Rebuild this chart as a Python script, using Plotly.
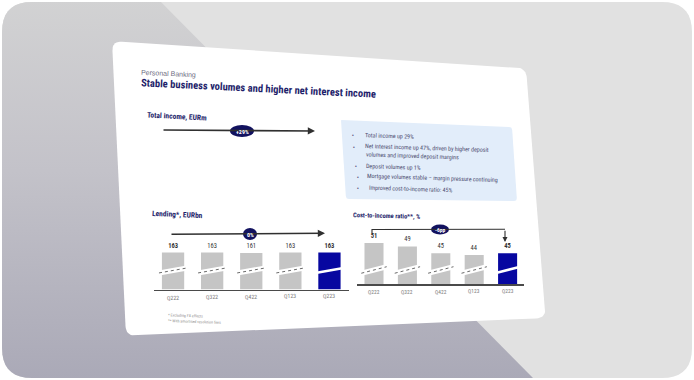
import numpy as np
import plotly.graph_objects as go

# ---------------- data ----------------
quarters = ["Q222", "Q322", "Q422", "Q123", "Q223"]
lending_eurbn = [163, 163, 161, 163, 163]
cost_to_income_pct = [51, 49, 45, 44, 45]
total_income_change = "+29%"
lending_change = "0%"
cir_change = "-6pp"
kicker = "Personal Banking"
title = "Stable business volumes and higher net interest income"
panel_titles = ["Total income, EURm", "Lending*, EURbn", "Cost-to-income ratio**, %"]
bullet_lines = [
    "Total income up 29%",
    "Net interest income up 47%, driven by higher deposit",
    "volumes and improved deposit margins",
    "Deposit volumes up 1%",
    "Mortgage volumes stable \u2013 margin pressure continuing",
    "Improved cost-to-income ratio: 45%",
]
bullet_first_line = [True, True, False, True, True, True]
footnotes = ["* Excluding FX effects", "** With amortised resolution fees"]

# ---------------- styling / layout constants ----------------
W, H = 694, 380
NARROW = "Liberation Sans Narrow, Arial Narrow, Roboto Condensed, DejaVu Sans Condensed, sans-serif"
SANS = "Liberation Sans, Arial, sans-serif"
NAVY_TXT = "#1f1f6b"
BAR_GREY = "#c5c5c5"
BAR_NAVY = "#0707a0"
PILL = "#12125f"
LINE = "#303030"


def rounded(pts, r, n=10):
    pts = np.asarray(pts, float)
    k = len(pts)
    rr = np.broadcast_to(np.asarray(r, float), (k,))
    xs, ys = [], []
    for i in range(k):
        p0, p1, p2 = pts[i - 1], pts[i], pts[(i + 1) % k]
        d1 = (p0 - p1) / np.linalg.norm(p0 - p1)
        d2 = (p2 - p1) / np.linalg.norm(p2 - p1)
        a, b = p1 + d1 * rr[i], p1 + d2 * rr[i]
        t = np.linspace(0, 1, n)[:, None]
        q = (1 - t) ** 2 * a + 2 * (1 - t) * t * p1 + t ** 2 * b
        xs += list(q[:, 0])
        ys += list(q[:, 1])
    return xs + [xs[0]], ys + [ys[0]]


def clip(xs, ys, a, b):
    P = list(zip(xs[:-1], ys[:-1]))

    def side(p):
        return (b[0] - a[0]) * (p[1] - a[1]) - (b[1] - a[1]) * (p[0] - a[0])

    out = []
    for i in range(len(P)):
        cur, nxt = P[i], P[(i + 1) % len(P)]
        sc, sn = side(cur), side(nxt)
        if sc >= 0:
            out.append(cur)
        if (sc >= 0) != (sn >= 0):
            t = sc / (sc - sn)
            out.append((cur[0] + t * (nxt[0] - cur[0]), cur[1] + t * (nxt[1] - cur[1])))
    out.append(out[0])
    return [p[0] for p in out], [p[1] for p in out]


fig = go.Figure()

# ---------- background (pixel space subplot x/y) ----------
ox, oy = rounded([(2, 2), (692, 2), (692, 378), (2, 378)], 30)
fig.add_trace(go.Scatter(x=ox, y=oy, fill="toself", fillcolor="#e1e1e1",
                         mode="lines", line=dict(width=0), hoverinfo="skip"))
lx, ly = clip(ox, oy, (159, 0), (535, 380))
fig.add_trace(go.Scatter(x=lx, y=ly, fill="toself", mode="lines", line=dict(width=0),
                         fillgradient=dict(type="vertical", start=0, stop=380,
                                           colorscale=[[0, "#d2d2d3"], [0.45, "#c3c2c9"], [1, "#aaa9b7"]]),
                         hoverinfo="skip"))
cx, cy = rounded([(112, 41), (526, 68), (546, 318), (126, 336)], 10)
fig.add_trace(go.Scatter(x=cx, y=cy, fill="toself", fillcolor="#ffffff",
                         mode="lines", line=dict(width=0), hoverinfo="skip"))
bx, by = rounded([(341, 120), (512, 127), (517, 201), (346, 199)], [0.5, 3, 3, 3])
fig.add_trace(go.Scatter(x=bx, y=by, fill="toself", fillcolor="#e2edfa",
                         mode="lines", line=dict(width=0), hoverinfo="skip"))

# ---------- bar charts ----------
def bold_ends(vals):
    return [f"<b>{v}</b>" if i in (0, len(vals) - 1) else f"{v}" for i, v in enumerate(vals)]

idx = list(range(len(quarters)))
colors = [BAR_GREY] * (len(quarters) - 1) + [BAR_NAVY]

fig.add_trace(go.Bar(x=idx, y=lending_eurbn, xaxis="x2", yaxis="y2", marker_color=colors,
                     marker_line_width=0, text=bold_ends(lending_eurbn), textposition="outside",
                     textangle=0, constraintext="none",
                     textfont=dict(family=NARROW, size=6.5, color="#333333"), hoverinfo="skip"))
fig.add_trace(go.Bar(x=idx, y=cost_to_income_pct, xaxis="x3", yaxis="y3", marker_color=colors,
                     marker_line_width=0, text=bold_ends(cost_to_income_pct), textposition="outside",
                     textangle=0, constraintext="none",
                     textfont=dict(family=NARROW, size=6.5, color="#333333"), hoverinfo="skip"))


def break_traces(xa, ya, ymid, dy, hw):
    gx, gy, nx, ny = [], [], [], []
    for i in idx:
        seg_x = [i - hw, i + hw, None]
        seg_y = [ymid - dy, ymid + dy, None]
        if i == idx[-1]:
            nx += seg_x
            ny += seg_y
        else:
            gx += seg_x
            gy += seg_y
    fig.add_trace(go.Scatter(x=gx, y=gy, xaxis=xa, yaxis=ya, mode="lines",
                             line=dict(color="white", width=5), hoverinfo="skip", cliponaxis=False))
    fig.add_trace(go.Scatter(x=gx, y=gy, xaxis=xa, yaxis=ya, mode="lines",
                             line=dict(color="#6a6a6a", width=1, dash="dot"), hoverinfo="skip", cliponaxis=False))
    fig.add_trace(go.Scatter(x=nx, y=ny, xaxis=xa, yaxis=ya, mode="lines",
                             line=dict(color="white", width=2.5), hoverinfo="skip", cliponaxis=False))


break_traces("x2", "y2", 84, 11, 0.36)
break_traces("x3", "y3", 35.2, 1.9, 0.38)

# ---------- shapes: pills and bracket ----------
shapes = []
for (pxc, pyc, pw, ph) in [(242, 131, 24, 12), (250, 234, 14, 12), (440, 229.5, 18, 10)]:
    shapes.append(dict(type="circle", xref="x", yref="y", x0=pxc - pw / 2, x1=pxc + pw / 2,
                       y0=pyc - ph / 2, y1=pyc + ph / 2, fillcolor=PILL, line=dict(width=0),
                       layer="above"))
shapes.append(dict(type="path", xref="x", yref="y", path="M 372,233 L 372,229.5 L 505,229.3",
                   line=dict(color=LINE, width=1.1), layer="above"))

annotations = []


def text(x, y, s, size, color, family=NARROW, angle=0, anchor="left", bold=False):
    annotations.append(dict(xref="x", yref="y", x=x, y=y, text=f"<b>{s}</b>" if bold else s,
                            showarrow=False, xanchor=anchor, yanchor="middle", textangle=angle,
                            font=dict(family=family, size=size, color=color)))


def arrow(x0, y0, x1, y1, width=1.4):
    annotations.append(dict(xref="x", yref="y", axref="x", ayref="y", x=x1, y=y1, ax=x0, ay=y0,
                            text="", showarrow=True, arrowhead=2, arrowsize=0.9, arrowwidth=width,
                            arrowcolor=LINE, standoff=0, startstandoff=0))


text(139, 73.7, kicker, 7, "#6e6e82", family=SANS, angle=2.7)
text(139, 88.2, title, 10.5, NAVY_TXT, angle=2.8, bold=True)
text(145, 116.7, panel_titles[0], 7.5, NAVY_TXT, angle=3, bold=True)
text(149.6, 214.7, panel_titles[1], 7.5, NAVY_TXT, angle=2.5, bold=True)
text(351, 215.8, panel_titles[2], 6.5, NAVY_TXT, angle=1.4, bold=True)

arrow(162, 130, 315, 131, 1.6)
arrow(170, 234.3, 325, 233.3, 1.6)
arrow(505, 229.3, 505, 242, 1.1)
text(242, 131, total_income_change, 6, "white", anchor="center", bold=True)
text(250, 234, lending_change, 6, "white", anchor="center", bold=True)
text(440, 229.5, cir_change, 5.5, "white", anchor="center", bold=True)

bx_text = [362.8, 362.8, 363.7, 364.2, 365, 366.4]
by_text = [135.2, 147.8, 155.5, 166.2, 177.7, 188.5]
dot_x = [352.7, 354, None, 356.2, 357.5, 358.4]
for i, line in enumerate(bullet_lines):
    text(bx_text[i], by_text[i], line, 6, "#4a4a6e", angle=1.8)
    if bullet_first_line[i]:
        text(dot_x[i], by_text[i] - 0.4, "\u2022", 5, "#5a5a80", family=SANS, anchor="center")

# category labels, following the slide's perspective just below the baseline
for i, q in enumerate(quarters):
    y_l = 297.8 + (295.6 - 297.8) * i / 4
    y_c = 292.4 + (290.6 - 292.4) * i / 4
    annotations.append(dict(xref="x2", yref="y", x=i, y=y_l, text=q, showarrow=False,
                            xanchor="center", yanchor="middle", textangle=-1.5,
                            font=dict(family=NARROW, size=5.8, color="#7c7c7c")))
    annotations.append(dict(xref="x3", yref="y", x=i, y=y_c, text=q, showarrow=False,
                            xanchor="center", yanchor="middle", textangle=-1.5,
                            font=dict(family=NARROW, size=5.5, color="#7c7c7c")))

text(166, 315.8, footnotes[0], 4, "#8a8a8a", angle=2)
text(166, 321.8, footnotes[1], 4, "#8a8a8a", angle=2)

hidden = dict(visible=False, showgrid=False, zeroline=False, fixedrange=True)
fig.update_layout(
    width=W, height=H, margin=dict(l=0, r=0, t=0, b=0),
    paper_bgcolor="white", plot_bgcolor="rgba(0,0,0,0)", showlegend=False,
    hovermode=False, bargap=0.43,
    xaxis=dict(domain=[0, 1], range=[0, W], **hidden),
    yaxis=dict(domain=[0, 1], range=[H, 0], **hidden),
    xaxis2=dict(domain=[153.5 / W, 349 / W], range=[-0.5, 4.5], anchor="y2", showline=True,
                linecolor="#4a4a4a", linewidth=1.8, showticklabels=False, ticks="",
                showgrid=False, zeroline=False, fixedrange=True),
    yaxis2=dict(domain=[1 - 289.5 / H, 1 - 243 / H], range=[0, 205], anchor="x2", **hidden),
    xaxis3=dict(domain=[357.3 / W, 524.3 / W], range=[-0.5, 4.5], anchor="y3", showline=True,
                linecolor="#4a4a4a", linewidth=1.8, showticklabels=False, ticks="",
                showgrid=False, zeroline=False, fixedrange=True),
    yaxis3=dict(domain=[1 - 284 / H, 1 - 232.7 / H], range=[27, 57], anchor="x3", **hidden),
    shapes=shapes, annotations=annotations,
)

fig.write_html("out.html", config={"displayModeBar": False, "staticPlot": True})
